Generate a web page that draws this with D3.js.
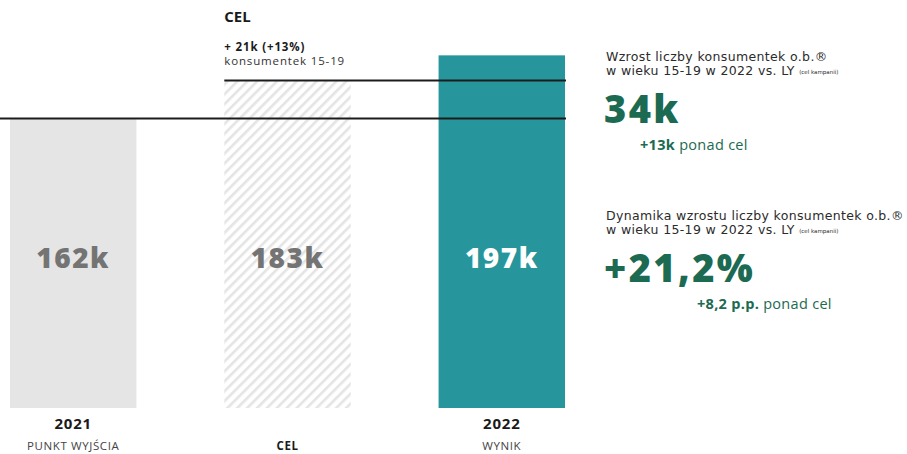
<!DOCTYPE html>
<html>
<head>
<meta charset="utf-8">
<script src="https://cdn.jsdelivr.net/npm/d3@7"></script>
<style>
  html, body { margin: 0; padding: 0; background: #fff; }
  svg { display: block; font-family: "Open Sans", "Noto Sans", sans-serif; }
</style>
</head>
<body>
<svg id="chart" width="907" height="454"></svg>
<script>
// Consumer counts (thousands) for the starting point, the campaign target and the result
const categories = ["2021", "CEL", "2022"];
const years = ["2021", "", "2022"];
const subLabels = ["PUNKT WYJŚCIA", "CEL", "WYNIK"];
const values = [162, 183, 197];
const valueLabels = ["162k", "183k", "197k"];
const referenceValues = [162, 183];

const svg = d3.select("#chart");

const x = d3.scaleBand()
  .domain(categories)
  .range([10, 565])
  .paddingInner(0.41)
  .paddingOuter(0);

const y = d3.scaleLinear()
  .domain([0, 220])
  .range([408, 408 - 220 * (290 / 162)]);

// diagonal hatch used for the target bar
const defs = svg.append("defs");
const pat = defs.append("pattern")
  .attr("id", "hatch")
  .attr("patternUnits", "userSpaceOnUse")
  .attr("width", 7)
  .attr("height", 7)
  .attr("patternTransform", "rotate(45)");
pat.append("rect").attr("width", 7).attr("height", 7).attr("fill", "#ffffff");
pat.append("rect").attr("x", 0).attr("width", 2.6).attr("height", 7).attr("fill", "#e4e4e4");

const fills = ["#e6e5e5", "url(#hatch)", "#27969c"];
const labelColors = ["#747474", "#747474", "#ffffff"];

svg.selectAll("rect.bar")
  .data(values)
  .join("rect")
  .attr("class", "bar")
  .attr("x", (d, i) => x(categories[i]))
  .attr("width", x.bandwidth())
  .attr("y", d => y(d))
  .attr("height", d => y(0) - y(d))
  .attr("fill", (d, i) => fills[i]);

// value labels in the middle of each bar
svg.selectAll("text.val")
  .data(values)
  .join("text")
  .attr("class", "val")
  .attr("x", (d, i) => x(categories[i]) + x.bandwidth() / 2)
  .attr("y", 268)
  .attr("text-anchor", "middle")
  .attr("font-size", 28)
  .attr("font-weight", 800)
  .attr("letter-spacing", 1.5)
  .attr("fill", (d, i) => labelColors[i])
  .text((d, i) => valueLabels[i]);

// reference lines at the starting level and at the target level
const lineStarts = [0, x("CEL")];
svg.selectAll("line.ref")
  .data(referenceValues)
  .join("line")
  .attr("class", "ref")
  .attr("x1", (d, i) => lineStarts[i])
  .attr("x2", x("2022") + x.bandwidth() + 1)
  .attr("y1", d => Math.round(y(d)) + 0.5)
  .attr("y2", d => Math.round(y(d)) + 0.5)
  .attr("stroke", "#1c1c1c")
  .attr("stroke-width", 2);

// category labels below the bars
svg.selectAll("text.year")
  .data(years)
  .join("text")
  .attr("class", "year")
  .attr("x", (d, i) => x(categories[i]) + x.bandwidth() / 2)
  .attr("y", 429)
  .attr("text-anchor", "middle")
  .attr("font-size", 15)
  .attr("font-weight", 700)
  .attr("letter-spacing", 0.8)
  .attr("fill", "#1a1a1a")
  .text(d => d);

svg.selectAll("text.sub")
  .data(subLabels)
  .join("text")
  .attr("class", "sub")
  .attr("x", (d, i) => x(categories[i]) + x.bandwidth() / 2)
  .attr("y", 450)
  .attr("text-anchor", "middle")
  .attr("font-size", 11.5)
  .attr("letter-spacing", 0.6)
  .attr("font-weight", (d, i) => i === 1 ? 700 : 400)
  .attr("fill", (d, i) => i === 1 ? "#1a1a1a" : "#444")
  .text(d => d);

// target annotation above the hatched bar
const tx = x("CEL");
svg.append("text").attr("x", tx).attr("y", 22)
  .attr("font-size", 15).attr("font-weight", 700).attr("fill", "#1a1a1a").text("CEL");
const note = svg.append("text").attr("x", tx).attr("y", 51)
  .attr("font-size", 11.5).attr("letter-spacing", 0.85).attr("fill", "#333");
note.append("tspan").attr("x", tx).attr("font-weight", 700).attr("fill", "#1a1a1a").text("+ 21k (+13%)");
note.append("tspan").attr("x", tx).attr("dy", 14).text("konsumentek 15-19");

// KPI panels on the right
const green = "#1b6a51";
function panel(top, line1, big, boldPart, restPart, subX) {
  const head = svg.append("text").attr("x", 606).attr("y", top)
    .attr("font-family", "'DejaVu Sans', sans-serif")
    .attr("font-size", 12.5).attr("letter-spacing", 0.35).attr("fill", "#2b2b2b");
  head.append("tspan").attr("x", 606).text(line1);
  head.append("tspan").attr("x", 606).attr("dy", 14).text("w wieku 15-19 w 2022 vs. LY ");
  head.append("tspan").attr("font-size", 5.5).attr("letter-spacing", 0).attr("dy", -1).text("(cel kampanii)");
  svg.append("text").attr("x", 604).attr("y", top + 62)
    .attr("font-size", 38).attr("font-weight", 800).attr("letter-spacing", 2.4)
    .attr("fill", green).text(big);
  const s = svg.append("text").attr("x", subX).attr("y", top + 89)
    .attr("font-size", 14.5).attr("letter-spacing", 0.3).attr("fill", green);
  s.append("tspan").attr("font-weight", 700).text(boldPart);
  s.append("tspan").text(restPart);
}
panel(61, "Wzrost liczby konsumentek o.b.®", "34k", "+13k", " ponad cel", 640);
panel(220, "Dynamika wzrostu liczby konsumentek o.b.®", "+21,2%", "+8,2 p.p.", " ponad cel", 697);
</script>
</body>
</html>
